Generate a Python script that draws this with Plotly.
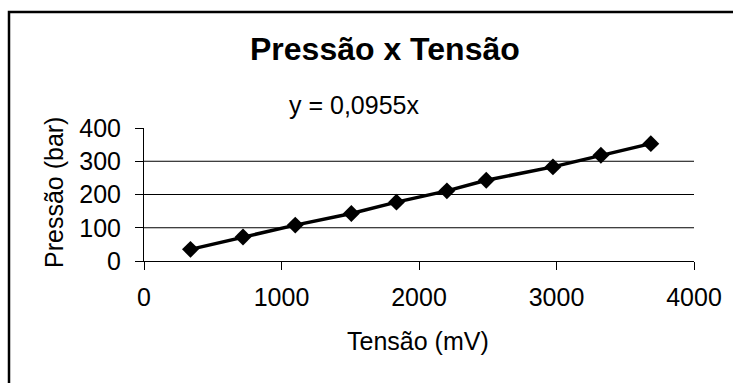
import plotly.graph_objects as go

# Data
tensao_mv = [338, 720, 1100, 1508, 1836, 2203, 2489, 2974, 3323, 3686]
pressao_bar = [35, 72, 108, 143, 177, 211, 243, 283, 318, 353]
x_ticks = [0, 1000, 2000, 3000, 4000]
y_ticks = [0, 100, 200, 300, 400]
grid_y = [100, 200, 300]

title_text = "<b>Pressão x Tensão</b>"
eq_text = "y = 0,0955x"
x_title = "Tensão (mV)"
y_title = "Pressão (bar)"

W, H = 733, 383
ML, MR, MT, MB = 144, 39, 128, 122
PW = W - ML - MR
PH = H - MT - MB

def px(x):
    return (x - ML) / PW

def py(y):
    return (H - MB - y) / PH

FONT = "Liberation Sans, Arial, sans-serif"
FS = 25

fig = go.Figure()
fig.add_trace(go.Scatter(
    x=tensao_mv, y=pressao_bar, mode="lines+markers",
    line=dict(color="black", width=3.5),
    marker=dict(symbol="diamond", size=13, color="black"),
    showlegend=False, cliponaxis=False,
))

shapes = []
for g in grid_y:
    shapes.append(dict(type="line", xref="paper", yref="y", x0=0, x1=1, y0=g, y1=g,
                       line=dict(color="black", width=1), layer="below"))
# chart border
shapes.append(dict(type="rect", xref="paper", yref="paper",
                   x0=px(9), x1=px(745), y0=py(12), y1=py(395),
                   line=dict(color="black", width=2.5)))

annotations = [
    dict(text=title_text, xref="paper", yref="paper", x=px(385), y=py(49),
         showarrow=False, font=dict(size=32, family=FONT, color="black"),
         xanchor="center", yanchor="middle"),
    dict(text=eq_text, xref="paper", yref="paper", x=px(421), y=py(105),
         showarrow=False, font=dict(size=FS, family=FONT, color="black"),
         xanchor="right", yanchor="middle"),
    dict(text=x_title, xref="paper", yref="paper", x=px(418), y=py(341),
         showarrow=False, font=dict(size=FS, family=FONT, color="black"),
         xanchor="center", yanchor="middle"),
    dict(text=y_title, xref="paper", yref="paper", x=px(54), y=py(193),
         showarrow=False, font=dict(size=FS, family=FONT, color="black"),
         xanchor="center", yanchor="middle", textangle=-90),
]

fig.update_layout(
    width=W, height=H,
    margin=dict(l=ML, r=MR, t=MT, b=MB, pad=0),
    paper_bgcolor="white", plot_bgcolor="white",
    font=dict(family=FONT, color="black", size=FS),
    shapes=shapes, annotations=annotations,
    xaxis=dict(range=[0, 4000], tickvals=x_ticks, showgrid=False, zeroline=False,
               showline=True, linecolor="black", linewidth=1,
               ticks="outside", ticklen=8, tickcolor="black", tickwidth=1,
               tickfont=dict(size=FS), ticklabelstandoff=6),
    yaxis=dict(range=[0, 400], tickvals=y_ticks, showgrid=False, zeroline=False,
               showline=True, linecolor="black", linewidth=1,
               ticks="outside", ticklen=8, tickcolor="black", tickwidth=1,
               tickfont=dict(size=FS), ticklabelstandoff=9),
)

fig.write_html("out.html")
